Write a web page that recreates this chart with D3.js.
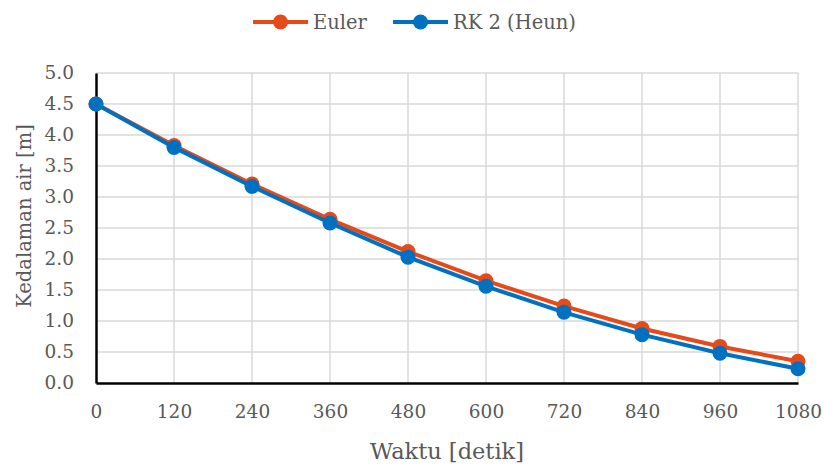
<!DOCTYPE html>
<html>
<head>
<meta charset="utf-8">
<script src="https://cdn.jsdelivr.net/npm/d3@7"></script>
<style>
  body { margin: 0; background: #fff; }
  text { font-family: "DejaVu Serif", serif; fill: #595959; }
</style>
</head>
<body>
<svg width="826" height="466"></svg>
<script>
// data
var waktu = [0, 120, 240, 360, 480, 600, 720, 840, 960, 1080]
var euler = [4.5, 3.83, 3.21, 2.64, 2.12, 1.65, 1.24, 0.88, 0.59, 0.35]
var heun  = [4.5, 3.80, 3.17, 2.58, 2.03, 1.56, 1.14, 0.78, 0.48, 0.23]
var yTicks = [0, 0.5, 1, 1.5, 2, 2.5, 3, 3.5, 4, 4.5, 5]

var series = [
  {name: "Euler", values: euler, color: "#E64A19"},
  {name: "RK 2 (Heun)", values: heun, color: "#0070C0"}
]

var svg = d3.select("svg")

var x = d3.scaleLinear().domain([0, 1080]).range([96, 798])
var y = d3.scaleLinear().domain([0, 5]).range([383, 73])

// grid
svg.append("g").selectAll("line").data(yTicks.slice(1))
  .enter().append("line")
    .attr("x1", x(0)).attr("x2", x(1080))
    .attr("y1", function(d) { return y(d) }).attr("y2", function(d) { return y(d) })
    .attr("stroke", "#d9d9d9").attr("stroke-width", 1.5)

svg.append("g").selectAll("line").data(waktu.slice(1))
  .enter().append("line")
    .attr("x1", function(d) { return x(d) }).attr("x2", function(d) { return x(d) })
    .attr("y1", y(0)).attr("y2", y(5))
    .attr("stroke", "#d9d9d9").attr("stroke-width", 1.5)

// axes
var xAxis = svg.append("g").attr("transform", "translate(0," + y(0) + ")")
  .call(d3.axisBottom(x).tickValues(waktu).tickSize(0).tickPadding(22).tickFormat(d3.format("d")))
var yAxis = svg.append("g").attr("transform", "translate(" + x(0) + ",0)")
  .call(d3.axisLeft(y).tickValues(yTicks).tickSize(0).tickPadding(22).tickFormat(d3.format(".1f")))

;[xAxis, yAxis].forEach(function(a) {
  a.select(".domain").attr("stroke", "#000").attr("stroke-width", 2.5)
  a.selectAll("text").attr("font-size", 18.5).attr("font-family", "DejaVu Serif").attr("fill", "#595959")
})

// titles
svg.append("text")
  .attr("x", 447).attr("y", 459)
  .attr("text-anchor", "middle").attr("font-size", 22.5)
  .text("Waktu [detik]")

svg.append("text")
  .attr("transform", "translate(31,216) rotate(-90)")
  .attr("text-anchor", "middle").attr("font-size", 19.5)
  .text("Kedalaman air [m]")

// lines
var line = d3.line()
  .x(function(d, i) { return x(waktu[i]) })
  .y(function(d) { return y(d) })

var s = svg.append("g").selectAll("g").data(series).enter().append("g")

s.append("path")
  .attr("d", function(d) { return line(d.values) })
  .attr("fill", "none")
  .attr("stroke", function(d) { return d.color })
  .attr("stroke-width", 4)

s.selectAll("circle").data(function(d) { return d.values.map(function(v, i) { return {v: v, i: i, c: d.color} }) })
  .enter().append("circle")
    .attr("cx", function(d) { return x(waktu[d.i]) })
    .attr("cy", function(d) { return y(d.v) })
    .attr("r", 7.5)
    .attr("fill", function(d) { return d.c })

// legend
var legX = [253, 393]
var leg = svg.append("g").selectAll("g").data(series).enter().append("g")
  .attr("transform", function(d, i) { return "translate(" + legX[i] + ",22)" })

leg.append("line").attr("x1", 0).attr("x2", 55)
  .attr("stroke", function(d) { return d.color }).attr("stroke-width", 4)
leg.append("circle").attr("cx", 27.5).attr("r", 7.5)
  .attr("fill", function(d) { return d.color })
leg.append("text").attr("x", 60).attr("dy", "0.35em")
  .attr("font-size", 19.5)
  .text(function(d) { return d.name })
</script>
</body>
</html>
